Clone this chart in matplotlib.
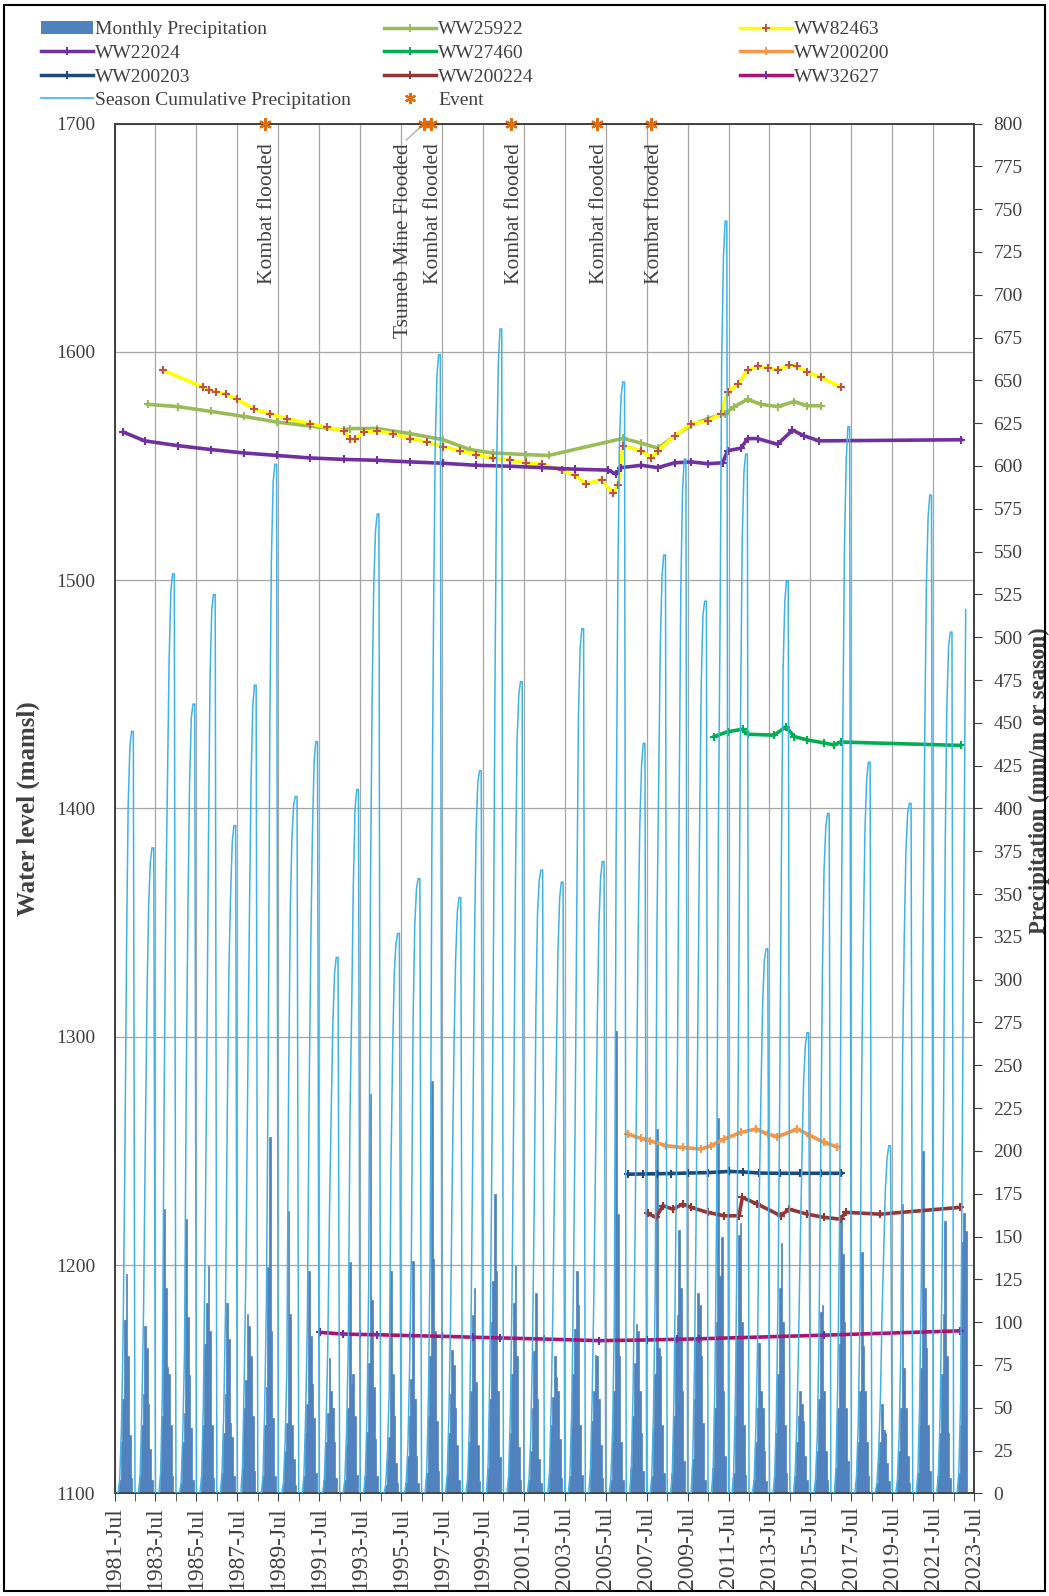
import matplotlib
matplotlib.use('Agg')
import matplotlib.pyplot as plt
import matplotlib.dates as mdates
from matplotlib.lines import Line2D
from matplotlib.patches import Patch, Rectangle
import pandas as pd

plt.rcParams['font.family'] = ['Liberation Serif', 'DejaVu Serif']

# ---- precipitation: first year of each Jul-Jun season, monthly mm Oct..May ----
season_start = list(range(1981, 2023))
monthly_oct_may = [
    [8, 30, 55, 101, 128, 80, 34, 9],
    [10, 40, 58, 98, 85, 52, 26, 8],
    [12, 45, 166, 120, 74, 70, 40, 10],
    [6, 30, 47, 160, 103, 69, 38, 8],
    [10, 40, 87, 111, 133, 95, 40, 9],
    [12, 35, 58, 111, 90, 41, 33, 10],
    [15, 50, 66, 105, 98, 80, 45, 13],
    [10, 40, 62, 132, 208, 95, 44, 10],
    [6, 25, 41, 165, 105, 40, 20, 5],
    [10, 35, 52, 130, 92, 64, 44, 12],
    [8, 30, 47, 79, 60, 50, 30, 9],
    [8, 28, 50, 135, 64, 70, 45, 11],
    [10, 36, 76, 233, 113, 62, 32, 10],
    [5, 20, 33, 130, 70, 45, 18, 6],
    [6, 22, 45, 67, 136, 55, 22, 6],
    [12, 45, 80, 241, 137, 95, 42, 13],
    [10, 35, 58, 84, 75, 50, 28, 8],
    [8, 30, 60, 104, 120, 65, 28, 7],
    [15, 55, 100, 124, 175, 130, 60, 21],
    [10, 35, 70, 111, 133, 80, 27, 8],
    [8, 25, 50, 83, 117, 55, 20, 6],
    [12, 40, 56, 80, 68, 60, 32, 9],
    [10, 38, 70, 96, 130, 110, 40, 11],
    [14, 42, 60, 81, 80, 55, 28, 9],
    [8, 30, 60, 270, 163, 80, 30, 8],
    [15, 45, 76, 99, 95, 60, 35, 13],
    [10, 38, 70, 213, 85, 80, 40, 12],
    [12, 45, 90, 104, 154, 120, 60, 19],
    [20, 55, 90, 117, 110, 80, 41, 8],
    [15, 50, 100, 219, 127, 150, 60, 22],
    [12, 45, 90, 151, 158, 100, 40, 11],
    [8, 30, 50, 88, 60, 50, 25, 7],
    [10, 35, 70, 120, 146, 100, 40, 12],
    [10, 30, 45, 60, 52, 42, 22, 8],
    [8, 25, 55, 106, 110, 60, 25, 8],
    [15, 50, 87, 162, 140, 100, 50, 19],
    [10, 30, 60, 141, 86, 60, 30, 10],
    [6, 18, 30, 52, 37, 35, 18, 7],
    [8, 25, 50, 169, 73, 50, 22, 6],
    [12, 40, 73, 200, 120, 85, 40, 13],
    [10, 35, 70, 105, 159, 80, 35, 9],
    [12, 40, 147, 164, 153],
]

# ---- water levels (decimal year, mamsl) ----
ww25922_t = [1983.13, 1984.6, 1986.2, 1987.83, 1989.45, 1991.07, 1992.7, 1993.0, 1994.3, 1995.93,
             1997.55, 1998.85, 1999.98, 2001.6, 2002.7, 2006.34, 2007.23, 2008.05, 2008.86, 2009.67,
             2010.48, 2011.3, 2011.78, 2012.43, 2013.08, 2013.89, 2014.7, 2015.35, 2016.0]
ww25922_h = [1577, 1576, 1573.9, 1571.7, 1569.2, 1567.5, 1565.7, 1566.4, 1566.4, 1564.2,
             1561.5, 1557.2, 1555.7, 1555, 1554.6, 1562.1, 1560, 1557.8, 1563.2, 1567.9,
             1570.7, 1572.8, 1576, 1579.2, 1577, 1576, 1578.2, 1576.4, 1576.4]

ww82463_t = [1983.86, 1985.8, 1986.1, 1986.45, 1986.94, 1987.5, 1988.3, 1989.1, 1989.93, 1991.07,
             1991.88, 1992.7, 1993.0, 1993.26, 1993.66, 1994.3, 1995.1, 1995.93, 1996.74, 1997.55,
             1998.36, 1999.17, 1999.98, 2000.8, 2001.6, 2002.4, 2003.34, 2003.99, 2004.55, 2005.29,
             2005.85, 2006.1, 2006.34, 2007.23, 2007.72, 2008.05, 2008.86, 2009.67, 2010.48, 2011.13,
             2011.45, 2011.94, 2012.43, 2012.92, 2013.4, 2013.89, 2014.46, 2014.86, 2015.35, 2016.0,
             2016.97]
ww82463_h = [1592, 1584.6, 1583.5, 1582.4, 1581.4, 1579.2, 1575, 1572.8, 1570.7, 1568.5,
             1567, 1565.3, 1562, 1561.7, 1565, 1565.3, 1564.2, 1562, 1560.6, 1558.5,
             1556.7, 1555, 1553.5, 1552.5, 1551.4, 1550.7, 1548.2, 1546, 1542.2, 1544,
             1538, 1541.8, 1558.9, 1556.7, 1553.5, 1556.7, 1563.2, 1568.5, 1569.6, 1572.8,
             1582.4, 1585.7, 1592, 1593.6, 1593.1, 1592, 1594.2, 1593.6, 1591, 1588.9,
             1584.6]

ww22024_t = [1981.91, 1982.97, 1984.6, 1986.2, 1987.83, 1989.45, 1991.07, 1992.7, 1994.3, 1995.93,
             1997.55, 1999.17, 2000.8, 2002.4, 2003.99, 2005.6, 2006.0, 2006.26, 2007.23, 2008.05,
             2008.86, 2009.67, 2010.48, 2011.21, 2011.45, 2012.1, 2012.43, 2012.92, 2013.89, 2014.62,
             2015.19, 2015.92, 2022.85]
ww22024_h = [1564.9, 1561, 1558.9, 1557.2, 1555.7, 1554.6, 1553.5, 1552.9, 1552.5, 1551.8,
             1551.2, 1550.3, 1549.9, 1549.3, 1548.6, 1548.2, 1546.5, 1549.3, 1550.3, 1549.3,
             1551.4, 1551.8, 1551, 1551.4, 1556.7, 1557.8, 1562, 1562, 1559.5, 1565.7,
             1563.2, 1561, 1561.5]

ww27460_t = [2010.8, 2011.45, 2012.18, 2012.43, 2013.73, 2014.3, 2014.7, 2015.35, 2016.16, 2016.65,
             2016.97, 2022.85]
ww27460_h = [1431.5, 1433.6, 1434.7, 1432.5, 1432.1, 1435.8, 1431.5, 1430, 1428.7, 1427.8,
             1429.1, 1427.6]

ww200200_t = [2006.58, 2007.2, 2007.64, 2008.45, 2009.26, 2010.14, 2010.63, 2011.28, 2012.1, 2012.83,
              2013.4, 2013.88, 2014.86, 2015.5, 2016.16, 2016.8]
ww200200_h = [1257.4, 1255.5, 1254.5, 1252.3, 1251.5, 1250.8, 1252.3, 1255.2, 1258.1, 1259.6,
              1257.4, 1256.2, 1259.6, 1256.7, 1253.7, 1251.8]

ww200203_t = [2006.6, 2007.3, 2008.0, 2008.7, 2009.5, 2010.5, 2011.5, 2012.2, 2013.0, 2014.0,
              2015.0, 2016.0, 2017.0]
ww200203_h = [1239.8, 1239.9, 1240.0, 1240.1, 1240.3, 1240.5, 1241.0, 1240.8, 1240.3, 1240.2,
              1240.2, 1240.2, 1240.2]

ww200224_t = [2007.55, 2007.96, 2008.29, 2008.78, 2009.26, 2009.65, 2010.47, 2011.28, 2012.01, 2012.17,
              2012.91, 2014.05, 2014.45, 2015.35, 2016.16, 2016.97, 2017.22, 2018.92, 2022.83]
ww200224_h = [1222.6, 1220.9, 1226, 1224.5, 1226.7, 1225.3, 1223.1, 1221.6, 1221.6, 1229.6,
              1226.7, 1221.6, 1224.5, 1222.3, 1220.9, 1220.1, 1223.1, 1222.3, 1225.3]

ww32627_t = [1991.53, 1992.67, 1993.5, 1994.3, 1995.92, 1997.5, 1999.0, 2000.31, 2002.5, 2005.19,
             2007.5, 2009.0, 2010.07, 2016.16, 2022.83]
ww32627_h = [1170.5, 1169.8, 1169.6, 1169.5, 1169.1, 1168.8, 1168.4, 1168.1, 1167.6, 1166.9,
             1167.2, 1167.5, 1167.7, 1169.3, 1171.2]

# ---- events ----
event_dates = ['1988-11-01', '1996-08-15', '1996-12-20', '2000-11-20', '2005-01-25', '2007-09-25']
event_values = [1700, 1700, 1700, 1700, 1700, 1700]
event_labels = ['Kombat flooded', 'Tsumeb Mine Flooded', 'Kombat flooded', 'Kombat flooded',
                'Kombat flooded', 'Kombat flooded']


def to_dates(years):
    return [pd.Timestamp(int(y), 1, 1) + pd.Timedelta(days=(y - int(y)) * 365.25) for y in years]


# monthly series and cumulative per season
months = pd.date_range('1981-07-01', '2023-02-01', freq='MS')
precip = pd.Series(0.0, index=months)
for yr, vals in zip(season_start, monthly_oct_may):
    idx = pd.date_range(f'{yr}-10-01', periods=len(vals), freq='MS')
    precip[idx] = vals
season_id = [d.year if d.month >= 7 else d.year - 1 for d in months]
season_cum = precip.groupby(season_id).cumsum()

fig = plt.figure(figsize=(10.49, 15.96), dpi=100)
ax = fig.add_axes([0.1092, 0.0643, 0.8194, 0.8583])
ax_p = ax.twinx()
ax_w = ax.twinx()
ax_c = ax.twinx()
ax.set_zorder(0)
ax_p.set_zorder(1)
ax_w.set_zorder(2)
ax_c.set_zorder(3)

x0, x1 = pd.Timestamp('1981-07-01'), pd.Timestamp('2023-07-01')
ax.set_xlim(x0, x1)
ax.set_ylim(1100, 1700)
ax_w.set_ylim(1100, 1700)
ax_p.set_ylim(0, 800)
ax_c.set_ylim(0, 800)
ax_w.axis('off')
ax_c.axis('off')

# precipitation
ax_p.bar(months, precip.values, width=31, color='#4F81BD', edgecolor='#4F81BD', linewidth=0.5)
ax_c.plot(months, season_cum.values, color='#3FB2E6', lw=1.1)

# water levels
series = [
    (ww25922_t, ww25922_h, '#9BBB59', '#9BBB59'),
    (ww82463_t, ww82463_h, '#FFFF00', '#C0504D'),
    (ww22024_t, ww22024_h, '#7030A0', '#7030A0'),
    (ww27460_t, ww27460_h, '#00B050', '#00B050'),
    (ww200200_t, ww200200_h, '#F79646', '#F79646'),
    (ww200203_t, ww200203_h, '#1F497D', '#1F497D'),
    (ww200224_t, ww200224_h, '#943634', '#943634'),
    (ww32627_t, ww32627_h, '#B0106E', '#7030A0'),
]
for t, h, c, mc in series:
    ax_w.plot(to_dates(t), h, color=c, lw=2.6, marker='+', ms=6, mew=1.5, mec=mc)

# events
ev = pd.to_datetime(event_dates)
ax_w.plot(ev, event_values, ls='none', marker=(6, 2, 0), ms=9, mew=1.6, color='#E46C0A',
          clip_on=False, zorder=5)
for d, v, lab in zip(ev, event_values, event_labels):
    if lab.startswith('Tsumeb'):
        ax_w.annotate(lab, xy=(d, v), xytext=(-15, -14), textcoords='offset points',
                      rotation=90, ha='center', va='top', fontsize=15.5, color='#404040',
                      annotation_clip=False,
                      arrowprops=dict(arrowstyle='-', color='#A0A0A0', lw=0.8,
                                      shrinkA=0, shrinkB=5, relpos=(0.5, 1)))
    else:
        ax_w.annotate(lab, xy=(d, v), xytext=(2, -14), textcoords='offset points',
                      rotation=90, ha='center', va='top', fontsize=15.5, color='#404040',
                      annotation_clip=False)

# axes styling
major = pd.date_range(x0, x1, freq='24MS')
minor = pd.date_range(x0, x1, freq='12MS')
ax.set_xticks(major)
ax.set_xticks(minor, minor=True)
ax.xaxis.set_major_formatter(mdates.DateFormatter('%Y-%b'))
ax.tick_params(axis='x', which='both', direction='out', length=6, color='#404040',
               labelsize=17, labelrotation=90, labelcolor='#404040', pad=3)
ax.set_yticks(range(1100, 1701, 100))
ax.tick_params(axis='y', direction='out', length=0, labelsize=14, labelcolor='#404040', pad=14)
ax_p.set_yticks(range(0, 801, 25))
ax_p.tick_params(axis='y', direction='out', length=6, color='#404040', labelsize=14,
                 labelcolor='#404040', pad=8)
ax.grid(True, which='major', color='#A6A6A6', lw=0.9)
for a in (ax, ax_p):
    for s in a.spines.values():
        s.set_color('#404040')
        s.set_linewidth(1.2)

ax.set_ylabel('Water level (mamsl)', fontsize=18, fontweight='bold', color='#404040', va='center')
ax.yaxis.set_label_coords(-0.1, 0.5)
ax_p.set_ylabel('Precipitation (mm/m or season)', fontsize=16.5, fontweight='bold',
                color='#404040', va='center')
ax_p.yaxis.set_label_coords(1.076, 0.52)

# legend, three columns
def wl(c, mc):
    return Line2D([], [], color=c, lw=2.5, marker='+', ms=6, mew=1.4, mec=mc)

cols = [
    ([Patch(facecolor='#4F81BD'), wl('#7030A0', '#7030A0'), wl('#1F497D', '#1F497D'),
      Line2D([], [], color='#3FB2E6', lw=1.2)],
     ['Monthly Precipitation', 'WW22024', 'WW200203', 'Season Cumulative Precipitation'], 0.039),
    ([wl('#9BBB59', '#9BBB59'), wl('#00B050', '#00B050'), wl('#943634', '#943634'),
      Line2D([], [], ls='none', marker=(6, 2, 0), ms=8, mew=1.6, color='#E46C0A')],
     ['WW25922', 'WW27460', 'WW200224', 'Event'], 0.366),
    ([wl('#FFFF00', '#C0504D'), wl('#F79646', '#F79646'), wl('#B0106E', '#7030A0')],
     ['WW82463', 'WW200200', 'WW32627'], 0.7054),
]
for handles, labels, xpos in cols:
    fig.legend(handles, labels, loc='upper left', bbox_to_anchor=(xpos, 0.987), frameon=False,
               fontsize=14, handlelength=2.7, handletextpad=0.1, labelspacing=0.31,
               borderpad=0, borderaxespad=0, labelcolor='#404040')

fig.patches.append(Rectangle((0.004, 0.003), 0.992, 0.994, transform=fig.transFigure,
                             fill=False, edgecolor='black', lw=1.5))

fig.savefig('out.png', dpi=100)
